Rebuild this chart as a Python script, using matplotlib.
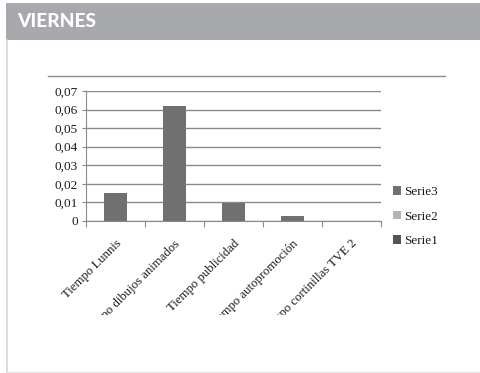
import matplotlib
matplotlib.use("Agg")
import matplotlib.pyplot as plt
from matplotlib.patches import Rectangle, Patch
from matplotlib.lines import Line2D
from matplotlib.transforms import Bbox, TransformedBbox, ScaledTranslation
import numpy as np

categories = ["Tiempo Lunnis", "Tiempo dibujos animados", "Tiempo publicidad",
              "Tiempo autopromoción", "Tiempo cortinillas TVE 2"]
serie3 = [0.015, 0.062, 0.0095, 0.0025, 0.0]
yticks = [0, 0.01, 0.02, 0.03, 0.04, 0.05, 0.06, 0.07]
ytick_labels = ["0", "0,01", "0,02", "0,03", "0,04", "0,05", "0,06", "0,07"]
legend_labels = ["Serie3", "Serie2", "Serie1"]
legend_colors = ["#707070", "#b4b4b4", "#555555"]

W, H = 481, 373
fig = plt.figure(figsize=(W / 100, H / 100), dpi=100)
fig.patch.set_facecolor("white")

def fx(px):
    return px / W

def fy(py):
    return 1 - py / H

# header band
fig.patches.append(Rectangle((fx(6), fy(40)), 1 - fx(6), fy(3) - fy(40),
                             transform=fig.transFigure, facecolor="#a8a9ad",
                             edgecolor="none", zorder=0))
fig.text(fx(17), fy(21.5), "VIERNES", color="white", fontsize=13.8,
         fontweight="black", family="Lato", va="center", ha="left")

# slide border lines
fig.lines.append(Line2D([fx(6.5), fx(6.5)], [fy(40), fy(372)], transform=fig.transFigure,
                        color="#d4d4d4", lw=1.2))
fig.lines.append(Line2D([fx(6.5), 1], [fy(372), fy(372)], transform=fig.transFigure,
                        color="#e6e6e6", lw=1.0))
# chart frame top line
fig.lines.append(Line2D([fx(48), fx(445)], [fy(76), fy(76)], transform=fig.transFigure,
                        color="#8c8c8c", lw=1.0))

ax = fig.add_axes([fx(86), fy(221), fx(381) - fx(86), fy(91) - fy(221)])
x = np.arange(len(categories))
ax.bar(x, serie3, width=0.39, color="#707070", zorder=3)
ax.set_xlim(-0.5, len(categories) - 0.5)
ax.set_ylim(0, 0.07)

ax.set_yticks(yticks)
ax.set_yticklabels(ytick_labels, family="Liberation Serif", fontsize=9.5, color="#1a1a1a")
ax.yaxis.grid(True, color="#8a8a8a", lw=1.0, zorder=0)
ax.tick_params(axis="y", length=3, color="#8a8a8a", pad=3)

ax.set_xticks(np.arange(len(categories) + 1) - 0.5)
ax.set_xticklabels([])
ax.tick_params(axis="x", which="major", length=4, color="#8a8a8a")
ax.set_xticks(x, minor=True)
ax.set_xticklabels(categories, minor=True, rotation=45, ha="right", va="center",
                   rotation_mode="anchor", family="Liberation Serif", fontsize=9.2,
                   color="#1a1a1a")
ax.tick_params(axis="x", which="minor", length=0, pad=15)

for s in ["top", "right"]:
    ax.spines[s].set_visible(False)
ax.spines["left"].set_color("#8a8a8a")
ax.spines["bottom"].set_color("#8a8a8a")

clip = TransformedBbox(Bbox([[0, fy(315)], [1, 1]]), fig.transFigure)
shift = ScaledTranslation(4 / 100, 0, fig.dpi_scale_trans)
for lab in ax.get_xticklabels(minor=True):
    lab.set_transform(lab.get_transform() + shift)
    lab.set_clip_box(clip)
    lab.set_clip_on(True)

handles = [Patch(facecolor=c, edgecolor="none") for c in legend_colors]
leg = fig.legend(handles, legend_labels, loc="upper left",
                 bbox_to_anchor=(fx(393), fy(186)), frameon=False,
                 prop={"family": "Liberation Serif", "size": 9.5},
                 handlelength=0.6, handleheight=0.6, handletextpad=0.25,
                 labelspacing=0.95, borderaxespad=0, borderpad=0)
for t in leg.get_texts():
    t.set_color("#1a1a1a")

fig.savefig("out.png", dpi=100, facecolor="white")
